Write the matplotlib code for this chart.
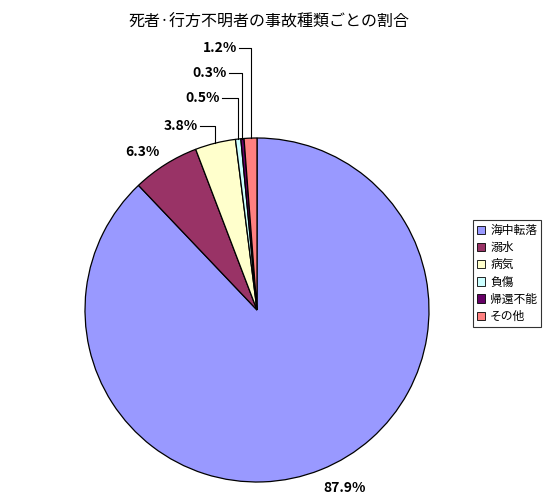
import numpy as np
import matplotlib
matplotlib.use('Agg')
import matplotlib.pyplot as plt

plt.rcParams['font.family'] = ['Noto Sans CJK JP', 'DejaVu Sans']

# data
categories = ['海中転落', '溺水', '病気', '負傷', '帰還不能', 'その他']
shares = [87.9, 6.3, 3.8, 0.5, 0.3, 1.2]
colors = ['#9999FF', '#993366', '#FFFFCC', '#CCFFFF', '#660066', '#FF8080']
title = '死者·行方不明者の事故種類ごとの割合'

fig = plt.figure(figsize=(5.46, 5.0), dpi=100)

# pie centre at pixel (257, 310), radius 172
cx, cy, r = 257, 310, 172
ax = fig.add_axes([(cx - r) / 546, (500 - cy - r) / 500, 2 * r / 546, 2 * r / 500])
wedges, _ = ax.pie(shares, colors=colors, startangle=90, counterclock=False,
                   radius=1.0, wedgeprops=dict(edgecolor='black', linewidth=0.9))
ax.set_xlim(-1, 1)
ax.set_ylim(-1, 1)
ax.set_aspect('equal')
ax.axis('off')


def px(x, y):
    # pixel position -> data coords
    return (x - cx) / r, (cy - y) / r


# label placement (pixels): (x, y, ha, leader)
label_pos = [
    (345, 488, 'center', False),
    (142, 152, 'center', False),
    (198, 126, 'right', True),
    (220, 98, 'right', True),
    (227, 73, 'right', True),
    (237, 48, 'right', True),
]

for w, val, (lx, ly, ha, leader) in zip(wedges, shares, label_pos):
    tx, ty = px(lx, ly)
    ax.text(tx, ty, f'{val:.1f}%', ha=ha, va='center', fontsize=10,
            fontweight='bold', clip_on=False)
    if leader:
        mid = np.deg2rad((w.theta1 + w.theta2) / 2)
        ex, ey = np.cos(mid), np.sin(mid)
        sx = tx + 1.5 / r
        ax.plot([sx, ex, ex], [ty, ty, ey], color='black', lw=0.8,
                clip_on=False)

fig.text(269 / 546, 1 - 22 / 500, title, ha='center', va='center', fontsize=11.5)

leg = fig.legend(wedges, categories, loc='upper left',
                 bbox_to_anchor=(473 / 546, 1 - 220 / 500),
                 fontsize=8.5, frameon=True, fancybox=False, shadow=False,
                 handlelength=0.7, handleheight=0.7, handletextpad=0.4,
                 labelspacing=0.35, borderpad=0.35, borderaxespad=0)
leg.get_frame().set_edgecolor('black')
leg.get_frame().set_linewidth(0.8)
for h in leg.legend_handles:
    h.set_edgecolor('black')
    h.set_linewidth(0.6)

fig.savefig('out.png', dpi=100)
